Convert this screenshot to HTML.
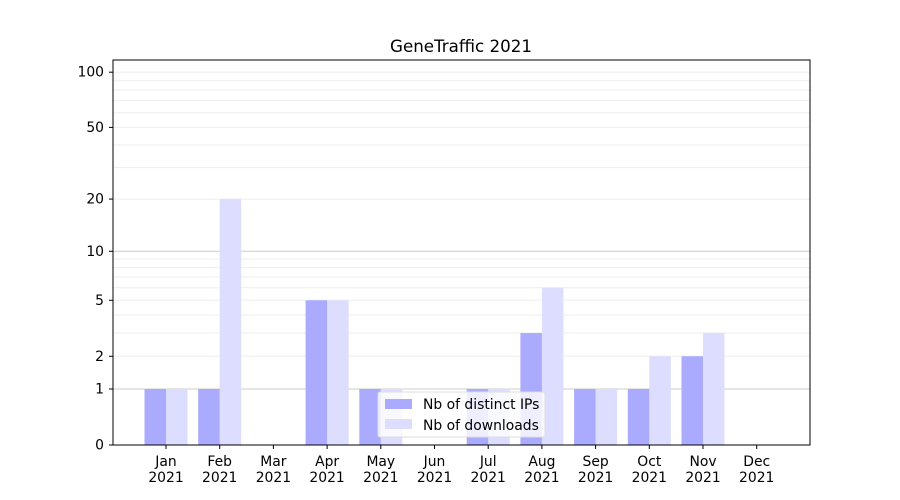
<!DOCTYPE html>
<html><head><meta charset="utf-8"><style>body{margin:0;background:#fff}svg{display:block}</style></head>
<body>
<svg width="900" height="500" xmlns="http://www.w3.org/2000/svg" font-family="DejaVu Sans, sans-serif">
<rect width="900" height="500" fill="#fff"/>
<g id="grid"></g>
<g id="bars"></g>
<rect x="113" y="60" width="697" height="385" fill="none" stroke="#000" stroke-width="1"/>
<g id="ticks" font-size="13.9" fill="#000"></g>
<text x="461" y="52" font-size="16.7" text-anchor="middle">GeneTraffic 2021</text>
<g>
<rect x="378" y="392" width="167" height="45" fill="#fff" fill-opacity="0.8" stroke="#ddd" rx="2"/>
<rect x="385" y="399" width="27" height="10" fill="#aaaaff"/>
<text x="423" y="409" font-size="13.9">Nb of distinct IPs</text>
<rect x="385" y="419" width="27" height="10" fill="#ddddff"/>
<text x="423" y="430" font-size="13.9">Nb of downloads</text>
</g>
<script>
const Y=v=>445-186*Math.log10(1+v);
const ns="http://www.w3.org/2000/svg";
function el(p,t,a,txt){const e=document.createElementNS(ns,t);for(const k in a)e.setAttribute(k,a[k]);if(txt!==undefined)e.textContent=txt;document.getElementById(p).appendChild(e);return e;}
const minors=[3,4,6,7,8,9,30,40,60,70,80,90];
minors.forEach(v=>el('grid','line',{x1:113,x2:810,y1:Y(v),y2:Y(v),stroke:'#eeeeee','stroke-width':1}));
[2,5,20,50,100].forEach(v=>el('grid','line',{x1:113,x2:810,y1:Y(v),y2:Y(v),stroke:'#eeeeee','stroke-width':1}));
[1,10].forEach(v=>el('grid','line',{x1:113,x2:810,y1:Y(v),y2:Y(v),stroke:'#cccccc','stroke-width':1}));
const ips=[1,1,0,5,1,0,1,3,1,1,2,0], dl=[1,20,0,5,1,0,1,6,1,2,3,0];
const m=['Jan','Feb','Mar','Apr','May','Jun','Jul','Aug','Sep','Oct','Nov','Dec'];
for(let i=0;i<12;i++){const c=166+i*53.7;
 if(dl[i]>0)el('bars','rect',{x:c,y:Y(dl[i]),width:21.5,height:445-Y(dl[i]),fill:'#ddddff'});
 if(ips[i]>0)el('bars','rect',{x:c-21.5,y:Y(ips[i]),width:21.5,height:445-Y(ips[i]),fill:'#aaaaff'});
 el('ticks','line',{x1:c,x2:c,y1:445,y2:449,stroke:'#000'});
 el('ticks','text',{x:c,y:466,'text-anchor':'middle'},m[i]);
 el('ticks','text',{x:c,y:482,'text-anchor':'middle'},'2021');
}
[0,1,2,5,10,20,50,100].forEach(v=>{const y=Y(v);
 el('ticks','line',{x1:109,x2:113,y1:y,y2:y,stroke:'#000'});
 el('ticks','text',{x:104,y:y+4.5,'text-anchor':'end'},String(v));});
</script>
</svg>
</body></html>
